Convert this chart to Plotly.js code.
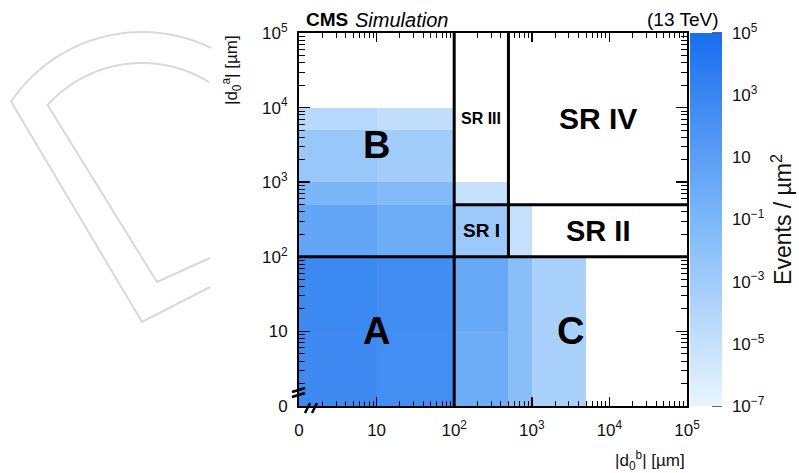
<!DOCTYPE html>
<html>
<head>
<meta charset="utf-8">
<script src="https://cdn.plot.ly/plotly-3.0.1.min.js"></script>
<style>
  html, body { margin: 0; padding: 0; background: #fff; }
  #chart { width: 799px; height: 473px; }
</style>
</head>
<body>
<div id="chart"></div>
<script>
// Bin edges in µm for |d0b| (x) and |d0a| (y). The first edge sits at the "0" position of the axis.
const xEdges = [1, 10, 100, 500, 1000, 5000, 10000, 100000];
const yEdges = [1, 10, 100, 500, 1000, 5000, 10000, 100000];

// Events / µm² per bin, one row per |d0a| bin (bottom to top); null = empty bin.
const row0 = [500, 250, 0.8, 0.02, 3e-4, null, null];
const row1 = [600, 300, 1.5, 0.02, 3e-4, null, null];
const row2 = [3, 0.8, 2e-3, 1e-5, null, null, null];
const row3 = [0.12, 0.04, 1e-5, null, null, null, null];
const row4 = [3e-3, 8e-4, null, null, null, null, null];
const row5 = [5e-5, 1.5e-5, null, null, null, null, null];
const row6 = [null, null, null, null, null, null, null];
const density = [row0, row1, row2, row3, row4, row5, row6];

// Control and signal regions (µm bounds)
const regionNames = ['A', 'B', 'C', 'SR I', 'SR II', 'SR III', 'SR IV'];
const regionXLo = [1, 1, 100, 100, 500, 100, 500];
const regionXHi = [100, 100, 100000, 500, 100000, 500, 100000];
const regionYLo = [1, 100, 1, 100, 100, 500, 500];
const regionYHi = [100, 100000, 100, 500, 500, 100000, 100000];

// Region dividers: [x0, y0, x1, y1] in µm
const dividers = [
  [100, 1, 100, 100000],
  [1, 100, 100000, 100],
  [500, 100, 500, 100000],
  [100, 500, 100000, 500]
];

// Axis labels
const axisTickVals = [1, 10, 100, 1000, 10000, 100000];
const axisTickText = ['0', '10', '10<sup>2</sup>', '10<sup>3</sup>', '10<sup>4</sup>', '10<sup>5</sup>'];
const zTickVals = [-7, -6, -5, -4, -3, -2, -1, 0, 1, 2, 3, 4, 5];
const zTickText = ['10<sup>\u22127</sup>', '', '10<sup>\u22125</sup>', '', '10<sup>\u22123</sup>', '',
                   '10<sup>\u22121</sup>', '', '10', '', '10<sup>3</sup>', '', '10<sup>5</sup>'];
const zMin = -7, zMax = 5;

// ---- drawing ----
const FONT = 'Liberation Sans, Arial, Helvetica, sans-serif';
const M = { l: 299, r: 112, t: 33, b: 67, autoexpand: false };
const W = 799 - M.l - M.r;
const H = 473 - M.t - M.b;
const pxX = px => (px - M.l) / W;
const pxY = py => (M.t + H - py) / H;

const minorVals = [];
for (let d = 0; d < 5; d++) {
  for (let k = 2; k <= 9; k++) minorVals.push(k * Math.pow(10, d));
}

const zLog = density.map(r => r.map(v => (v == null ? null : Math.log10(v))));

const barLeft = 690, barWidth = 32;

const heat = {
  type: 'heatmap',
  x: xEdges,
  y: yEdges,
  z: zLog,
  zmin: zMin,
  zmax: zMax,
  zsmooth: false,
  colorscale: [[0, 'rgb(233,245,254)'], [0.5, 'rgb(124,183,248)'], [1, 'rgb(24,110,238)']],
  hoverinfo: 'skip',
  colorbar: {
    thickness: barWidth, thicknessmode: 'pixels',
    len: 1, lenmode: 'fraction',
    x: pxX(barLeft), xanchor: 'left', xpad: 0,
    y: 0.5, yanchor: 'middle', ypad: 0,
    outlinewidth: 0,
    ticks: 'outside', ticklen: 7, tickwidth: 1, tickcolor: 'rgba(0,0,0,0)',
    tickmode: 'array', tickvals: zTickVals, ticktext: zTickText,
    tickfont: { family: FONT, size: 17, color: '#111' },
    title: { text: 'Events / \u00b5m<sup>2</sup>', side: 'right', font: { family: FONT, size: 23, color: '#111' } }
  }
};

const lx = [], ly = [];
dividers.forEach(d => { lx.push(d[0], d[2], null); ly.push(d[1], d[3], null); });
const lines = {
  type: 'scatter', mode: 'lines', x: lx, y: ly,
  line: { color: '#000', width: 3 }, hoverinfo: 'skip', showlegend: false
};

const labelSize = { 'A': 38, 'B': 38, 'C': 38, 'SR I': 19, 'SR II': 29, 'SR III': 16, 'SR IV': 30 };
const annotations = regionNames.map((n, i) => ({
  x: (Math.log10(regionXLo[i]) + Math.log10(regionXHi[i])) / 2,
  y: (Math.log10(regionYLo[i]) + Math.log10(regionYHi[i])) / 2,
  xref: 'x', yref: 'y', text: '<b>' + n + '</b>', showarrow: false,
  font: { family: FONT, size: labelSize[n], color: '#000' }
}));

annotations.push(
  { xref: 'paper', yref: 'paper', x: pxX(304), y: pxY(20), xanchor: 'left', yanchor: 'middle',
    text: '<b>CMS</b>', showarrow: false, font: { family: FONT, size: 19, color: '#000' } },
  { xref: 'paper', yref: 'paper', x: pxX(353), y: pxY(20), xanchor: 'left', yanchor: 'middle',
    text: '<i>Simulation</i>', showarrow: false, font: { family: FONT, size: 20, color: '#000' } },
  { xref: 'paper', yref: 'paper', x: pxX(720), y: pxY(20), xanchor: 'right', yanchor: 'middle',
    text: '(13 TeV)', showarrow: false, font: { family: FONT, size: 19, color: '#000' } },
  { xref: 'paper', yref: 'paper', x: 1, y: pxY(461), xanchor: 'right', yanchor: 'middle',
    text: '|d<sub>0</sub><sup>b</sup>| [\u00b5m]', showarrow: false, font: { family: FONT, size: 17, color: '#111' } },
  { xref: 'paper', yref: 'paper', x: pxX(231), y: 1, xanchor: 'center', yanchor: 'top', textangle: -90,
    text: '|d<sub>0</sub><sup>a</sup>| [\u00b5m]', showarrow: false, font: { family: FONT, size: 17, color: '#111' } }
);

// light outline emblem on the left
function arcPts(cx, cy, r, a0, a1, n) {
  const pts = [];
  for (let i = 0; i <= n; i++) {
    const a = (a0 + (a1 - a0) * i / n) * Math.PI / 180;
    pts.push([cx + r * Math.cos(a), cy + r * Math.sin(a)]);
  }
  return pts;
}
function pathFrom(pts) {
  return pts.map((p, i) => (i ? 'L' : 'M') + pxX(p[0]).toFixed(4) + ',' + pxY(p[1]).toFixed(4)).join(' ');
}
const outer = arcPts(142, 190, 158, -64, -146, 40).concat([[142, 322], [210, 287]]);
const inner = arcPts(142, 190, 127, -58, -138, 40).concat([[157, 282], [210, 258]]);

const seg = (x0, y0, x1, y1, w) => ({
  type: 'line', xref: 'paper', yref: 'paper', layer: 'above',
  x0: pxX(x0), y0: pxY(y0), x1: pxX(x1), y1: pxY(y1),
  line: { color: '#000', width: w || 2.5 }
});

const shapes = [
  { type: 'path', xref: 'paper', yref: 'paper', layer: 'below', path: pathFrom(outer), line: { color: '#d9d9d9', width: 2 } },
  { type: 'path', xref: 'paper', yref: 'paper', layer: 'below', path: pathFrom(inner), line: { color: '#d9d9d9', width: 2 } },
  // axis-break marks at the origin
  seg(292, 392, 305, 388), seg(292, 397, 305, 393),
  seg(305, 413, 310, 403), seg(312, 413, 317, 403)
];

// palette ticks drawn inward from the right edge of the colour bar
zTickVals.forEach(v => {
  const yp = (v - zMin) / (zMax - zMin);
  shapes.push({
    type: 'line', xref: 'paper', yref: 'paper', layer: 'above',
    x0: pxX(barLeft + barWidth - 10), x1: pxX(barLeft + barWidth), y0: yp, y1: yp,
    line: { color: '#000', width: 1.2 }
  });
});

const axisCommon = {
  type: 'log', range: [0, 5],
  tickmode: 'array', tickvals: axisTickVals, ticktext: axisTickText,
  ticks: 'inside', tickwidth: 1.5, tickcolor: '#000',
  showline: true, linecolor: '#000', linewidth: 2, mirror: 'ticks',
  showgrid: false, zeroline: false,
  tickfont: { family: FONT, size: 17, color: '#111' },
  minor: { tickmode: 'array', tickvals: minorVals, ticks: 'inside', tickwidth: 1, tickcolor: '#000', showgrid: false }
};

const layout = {
  width: 799, height: 473,
  margin: M,
  paper_bgcolor: '#fff', plot_bgcolor: '#fff',
  showlegend: false,
  xaxis: Object.assign({}, axisCommon, { ticklen: 9, minor: Object.assign({}, axisCommon.minor, { ticklen: 5 }), ticklabelstandoff: 8 }),
  yaxis: Object.assign({}, axisCommon, { ticklen: 11, minor: Object.assign({}, axisCommon.minor, { ticklen: 6 }), ticklabelstandoff: 6 }),
  annotations: annotations,
  shapes: shapes
};

Plotly.newPlot('chart', [heat, lines], layout, { staticPlot: true, displayModeBar: false });
</script>
</body>
</html>
